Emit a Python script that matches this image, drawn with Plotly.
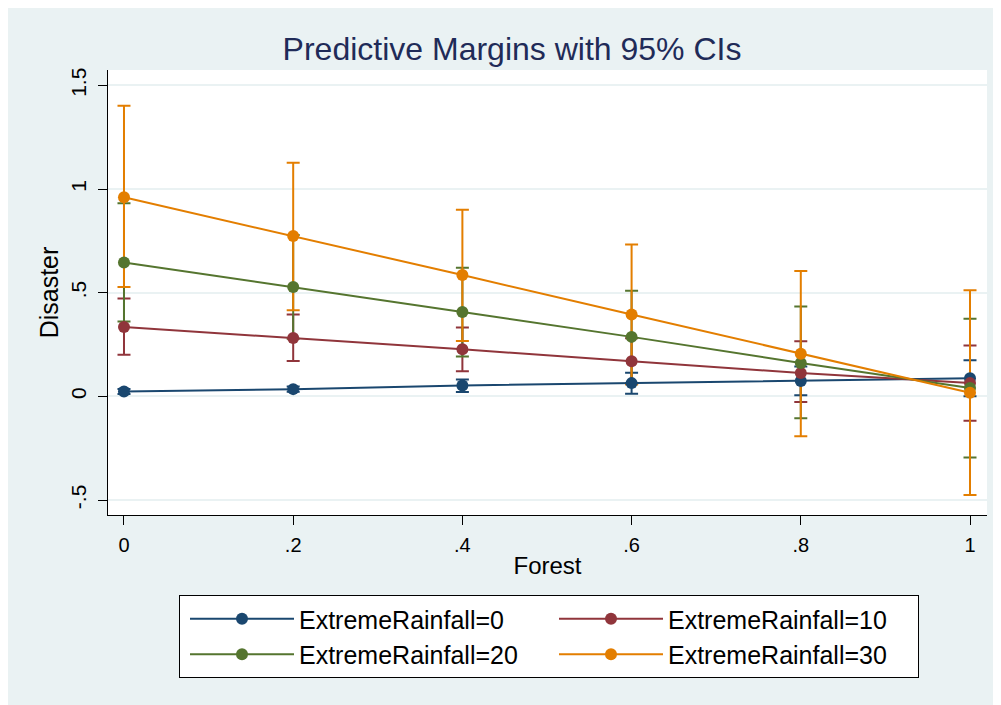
import plotly.graph_objects as go

forest = [0, 0.2, 0.4, 0.6, 0.8, 1.0]
series_names = ["ExtremeRainfall=0", "ExtremeRainfall=10", "ExtremeRainfall=20", "ExtremeRainfall=30"]
colors = ["#1a476f", "#90353b", "#55752f", "#e37e00"]

margin_0 = [0.024, 0.035, 0.053, 0.064, 0.074, 0.087]
margin_10 = [0.335, 0.282, 0.227, 0.169, 0.113, 0.064]
margin_20 = [0.646, 0.528, 0.407, 0.287, 0.161, 0.040]
margin_30 = [0.960, 0.773, 0.585, 0.395, 0.206, 0.018]

lower_0 = [0.012, 0.022, 0.021, 0.013, 0.005, 0.001]
upper_0 = [0.036, 0.048, 0.082, 0.114, 0.144, 0.174]
lower_10 = [0.201, 0.171, 0.121, 0.060, -0.027, -0.117]
upper_10 = [0.472, 0.395, 0.332, 0.280, 0.266, 0.245]
lower_20 = [0.361, 0.278, 0.192, 0.065, -0.105, -0.295]
upper_20 = [0.931, 0.778, 0.620, 0.509, 0.433, 0.374]
lower_30 = [0.528, 0.415, 0.267, 0.057, -0.192, -0.475]
upper_30 = [1.401, 1.127, 0.900, 0.733, 0.605, 0.512]

x_tickvals = [0, 0.2, 0.4, 0.6, 0.8, 1]
x_ticktext = ["0", ".2", ".4", ".6", ".8", "1"]
y_tickvals = [-0.5, 0, 0.5, 1, 1.5]
y_ticktext = ["-.5", "0", ".5", "1", "1.5"]

margins = [margin_0, margin_10, margin_20, margin_30]
lowers = [lower_0, lower_10, lower_20, lower_30]
uppers = [upper_0, upper_10, upper_20, upper_30]

BG = "#EAF2F3"
FONT = "Liberation Sans, Arial, sans-serif"

fig = go.Figure()

# confidence intervals first (drawn beneath all lines/markers)
for m, lo, up, c in zip(margins, lowers, uppers, colors):
    fig.add_trace(go.Scatter(
        x=forest, y=m, mode="markers",
        marker=dict(size=0.1, color=c, opacity=0),
        error_y=dict(type="data", symmetric=False,
                     array=[u - v for u, v in zip(up, m)],
                     arrayminus=[v - l for v, l in zip(m, lo)],
                     color=c, thickness=2, width=6.5),
        showlegend=False, hoverinfo="skip"))

for m, c, name in zip(margins, colors, series_names):
    fig.add_trace(go.Scatter(
        x=forest, y=m, mode="lines+markers", name=name,
        line=dict(color=c, width=2),
        marker=dict(color=c, size=12)))

OFF = 8  # page body margin
W, H = 1001 - OFF, 705 - OFF
L, T, R = 108 - OFF, 70 - OFF, W - (987 - OFF)
B = H - (515 - OFF)
pw, ph = W - L - R, H - T - B

def px_x(p):
    return (p - OFF - L) / pw

def px_y(p):
    return (H - B - (p - OFF)) / ph

fig.update_layout(
    width=W, height=H,
    margin=dict(l=L, r=R, t=T, b=B, pad=0, autoexpand=False),
    paper_bgcolor=BG, plot_bgcolor="white",
    font=dict(family=FONT, color="black", size=20),
    title=dict(text="Predictive Margins with 95% CIs", x=(512 - OFF) / W, xref="container",
               xanchor="center", y=1 - (49 - OFF) / H, yref="container", yanchor="middle",
               font=dict(size=32, color="#1f2b58", family=FONT)),
    xaxis=dict(range=[-0.0189, 1.0201], tickvals=x_tickvals, ticktext=x_ticktext,
               showgrid=False, zeroline=False, showline=True, linecolor="black", linewidth=1,
               ticks="outside", ticklen=9, tickcolor="black", tickwidth=1,
               tickfont=dict(size=20), ticklabelstandoff=3,
               title=dict(text="Forest", font=dict(size=24), standoff=2)),
    yaxis=dict(range=[-0.572, 1.574], tickvals=y_tickvals, ticktext=y_ticktext,
               showgrid=True, gridcolor=BG, gridwidth=2, zeroline=False,
               showline=True, linecolor="black", linewidth=1,
               ticks="outside", ticklen=9, tickcolor="black", tickwidth=1,
               tickangle=-90, tickfont=dict(size=21), ticklabelstandoff=4,
               title=dict(text="Disaster", font=dict(size=25), standoff=0)),
    legend=dict(orientation="h", x=px_x(179), xanchor="left", y=px_y(595), yanchor="top",
                bgcolor="white", bordercolor="black", borderwidth=1,
                font=dict(size=25, color="black"), itemwidth=104, indentation=5,
                entrywidth=245, entrywidthmode="pixels", traceorder="normal"),
)

fig.write_html("out.html")
